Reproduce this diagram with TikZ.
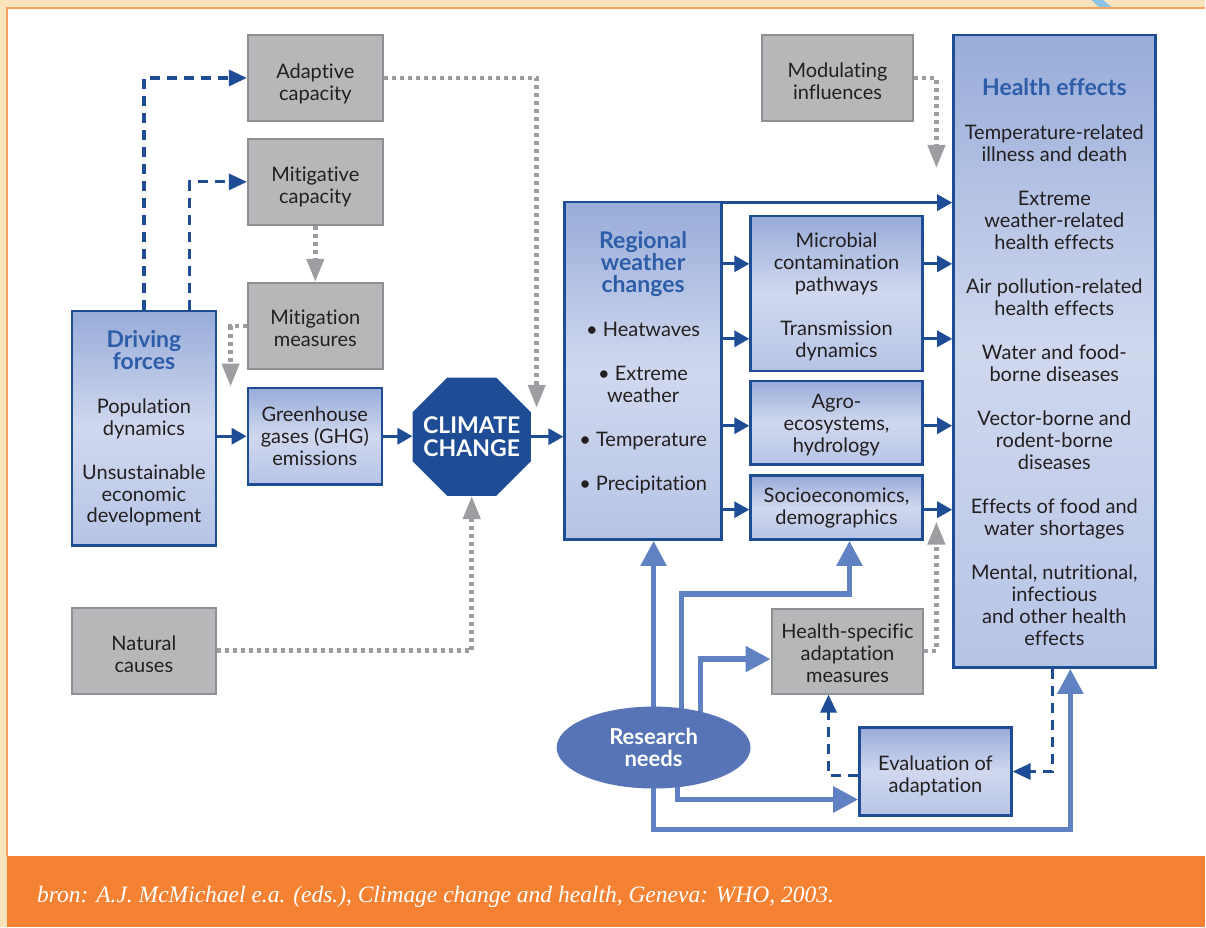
\documentclass[tikz,border=0pt]{standalone}
\usepackage{fontspec}
\setsansfont[Ligatures=NoCommon]{Lato}
\newfontfamily\sourcefont{Liberation Serif}
\usetikzlibrary{arrows.meta,positioning,calc,shapes.geometric,backgrounds}
\definecolor{DeepBlue}{HTML}{1E4D95}
\definecolor{TitleBlue}{HTML}{2D5DA8}
\definecolor{BoxTop}{HTML}{98ACD9}
\definecolor{BoxMid}{HTML}{D0D8EE}
\definecolor{BoxBot}{HTML}{B6C4E6}
\definecolor{ReachBlue}{HTML}{6082C2}
\definecolor{NeedBlue}{HTML}{5674B6}
\definecolor{GreyFill}{HTML}{B5B7B9}
\definecolor{GreyLine}{HTML}{8E9093}
\definecolor{DotGrey}{HTML}{9C9EA1}
\definecolor{InkDark}{HTML}{231F20}
\definecolor{Sand}{HTML}{F8E3BC}
\definecolor{PanelLine}{HTML}{F6A25E}
\definecolor{Band}{HTML}{F58233}
\definecolor{Sky}{HTML}{8CC4E8}
\newcommand{\boxtitle}[1]{{\fontsize{23}{22}\selectfont\bfseries\color{TitleBlue}#1}}
% taller first line, pushes a centred text block down
\newcommand{\lowered}[1]{\rule{0pt}{#1}}

\begin{document}
\begin{tikzpicture}[x=1pt, y=1pt,
  font=\sffamily\fontsize{20}{22}\selectfont, text=InkDark,
  greybox/.style={draw=GreyLine, fill=GreyFill, line width=2pt, align=center, inner sep=2pt},
  bluebox/.style={draw=DeepBlue, top color=BoxTop, bottom color=BoxBot, middle color=BoxMid, line width=2.5pt, align=center, inner sep=2pt},
  flow/.style={-{Triangle[length=15pt,width=16pt]}, line width=3.2pt, draw=DeepBlue},
  dashflow/.style={-{Triangle[length=18pt,width=16pt]}, line width=3.2pt, draw=DeepBlue, dash pattern=on 10pt off 7pt},
  dotflow/.style={-{Triangle[length=23pt,width=17pt]}, line width=4.5pt, draw=DotGrey, dash pattern=on 4pt off 4pt},
  reach/.style={-{Triangle[length=25pt,width=25pt]}, line width=5.5pt, draw=ReachBlue}
]
  % left column
  \node[greybox, minimum width=135pt, minimum height=86pt] (adapt) at (315.5,-78) {\lowered{26.5pt}Adaptive\\capacity};
  \node[greybox, minimum width=135pt, minimum height=86pt, below=16pt of adapt] (mitcap) {\lowered{24.5pt}Mitigative\\capacity};
  \node[greybox, minimum width=135pt, minimum height=86pt, below=56pt of mitcap] (mitmeas) {\lowered{20.5pt}Mitigation\\measures};
  \node[bluebox, minimum width=144pt, minimum height=235pt] (drive) at (144,-428.5)
    {\boxtitle{Driving}\\\boxtitle{forces}\\[22pt] Population\\dynamics\\[22pt] Unsustainable\\economic\\development};
  \node[bluebox, minimum width=134pt, minimum height=97pt] (ghg) at (315,-436.5) {Greenhouse\\gases (GHG)\\emissions};
  \node[greybox, minimum width=144pt, minimum height=86pt] (natural) at (144,-651) {\lowered{22.5pt}Natural\\causes};
  \node[regular polygon, regular polygon sides=8, minimum size=128pt, fill=DeepBlue, text=white, inner sep=0pt,
    font=\sffamily\bfseries\fontsize{23}{23}\selectfont, align=center] (climate) at (472,-437)
    {\makebox[0pt]{CLIMATE}\\\makebox[0pt]{CHANGE}};

  % middle and right
  \node[bluebox, minimum width=157pt, minimum height=338pt] (regional) at (643.5,-371)
    {\boxtitle{Regional}\\\boxtitle{weather}\\\boxtitle{changes}\\[22pt] \textbullet\ Heatwaves\\[22pt]
     \textbullet\ Extreme\\weather\\[22pt] \textbullet\ Temperature\\[22pt] \textbullet\ Precipitation\rule[-20pt]{0pt}{1pt}};
  \node[bluebox, minimum width=172pt, minimum height=155pt] (microbe) at (837,-293.5)
    {\lowered{21.5pt}Microbial\\contamination\\pathways\\[22pt] Transmission\\dynamics};
  \node[bluebox, minimum width=172pt, minimum height=84pt, below=7.5pt of microbe] (agro) {\lowered{19.5pt}Agro-\\ecosystems,\\hydrology};
  \node[bluebox, minimum width=172pt, minimum height=64pt, below=8.5pt of agro] (socio) {Socioeconomics,\\demographics};
  \node[greybox, minimum width=152pt, minimum height=86pt] (modul) at (838,-78) {\lowered{20.5pt}Modulating\\influences};
  \node[bluebox, minimum width=202pt, minimum height=633pt] (health) at (1055,-351.5)
    {\lowered{39pt}\boxtitle{Health effects}\\[22pt]
     Temperature-related\\illness and death\\[22pt]
     Extreme\\weather-related\\health effects\\[22pt]
     Air pollution-related\\health effects\\[22pt]
     Water and food-\\borne diseases\\[22pt]
     Vector-borne and\\rodent-borne\\diseases\\[22pt]
     Effects of food and\\water shortages\\[22pt]
     Mental, nutritional,\\infectious\\and other health\\effects};
  \node[greybox, minimum width=152pt, minimum height=85pt] (hsam) at (848,-651.5) {\lowered{18.5pt}Health-specific\\adaptation\\measures};
  \node[bluebox, minimum width=152pt, minimum height=88pt] (evalad) at (936,-772) {\lowered{22.5pt}Evaluation of\\adaptation};
  \node[ellipse, fill=NeedBlue, minimum width=194pt, minimum height=82pt, text=white, align=center,
    font=\sffamily\bfseries\fontsize{22}{22}\selectfont] (research) at (654,-748) {Research\\needs};

  \coordinate (dropA) at (537,-408);
  \coordinate (dropB) at (937,-168);
  \coordinate (dropC) at (937,-522);

  \begin{scope}[on background layer]
    % page frame and source line
    \fill[Sand] (0,0) rectangle (1206,-928);
    \fill[Sky] (1092,0) -- (1104,0) -- (1113,-8) -- (1101,-8) -- cycle;
    \fill[white] (7,-8) rectangle (1206,-857);
    \draw[PanelLine, line width=1.5pt] (7,-857) -- (7,-8) -- (1206,-8);
    \fill[Band] (7,-857) rectangle (1206,-928);
    \node[anchor=base west, inner sep=0pt, text=white, font=\sourcefont\itshape\fontsize{23.5}{26}\selectfont] (source) at (37,-903)
      {bron: A.J. McMichael e.a. (eds.), Climage change and health, Geneva: WHO, 2003.};

    % drivers to climate change
    \draw[dashflow] (drive.north) |- (adapt.west);
    \draw[dashflow] ([xshift=46pt]drive.north) |- (mitcap.west);
    \draw[dotflow] (mitcap.south) -- (mitmeas.north);
    \draw[dotflow] (mitmeas.west) -| ([xshift=-16pt]ghg.north west);
    \draw[flow] (drive.east |- ghg.west) -- (ghg.west);
    \draw[flow] (ghg.east) -- (ghg.east -| climate.west);
    \draw[flow] (climate.east) -- (climate.east -| regional.west);
    \draw[dotflow] (adapt.east) -| (dropA);
    \draw[dotflow] (natural.east) -| (climate.south);

    % weather changes to health effects
    \draw[flow] ([yshift=-2pt]regional.north east) -- ([yshift=-2pt]regional.north east -| health.west);
    \foreach \dy/\via in {29.5/microbe, -45.5/microbe, -3/agro, -2/socio} {
      \draw[flow] ([yshift=\dy pt]\via.west -| regional.east) -- ([yshift=\dy pt]\via.west);
      \draw[flow] ([yshift=\dy pt]\via.east) -- ([yshift=\dy pt]\via.east -| health.west);
    }
    \draw[dotflow] (modul.east) -| (dropB);
    \draw[dotflow] (hsam.east) -| (dropC);

    % research needs
    \draw[reach] (research.center) -- (research.center |- regional.south);
    \draw[reach] ([xshift=28pt]research.center) |- ($(socio.south)+(13,-53)$) -- ([xshift=13pt]socio.south);
    \draw[reach] ([xshift=47pt]research.center) |- ([yshift=-8pt]hsam.west);
    \draw[reach] ([xshift=24pt]research.center) |- ([yshift=-28pt]evalad.west);
    \draw[reach] (research.center) -- ++(0,-82) -| ([xshift=16pt]health.south);

    % evaluation loop
    \draw[dashflow] ([yshift=-4pt]evalad.west) -| ([xshift=-19pt]hsam.south);
    \draw[dashflow] ([xshift=-2pt]health.south) |- (evalad.east);
  \end{scope}
\end{tikzpicture}
\end{document}
